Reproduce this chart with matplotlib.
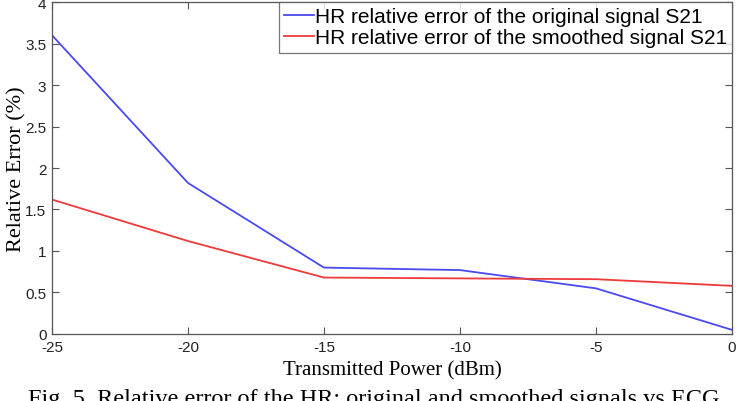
import matplotlib
matplotlib.use("Agg")
import matplotlib.pyplot as plt

power_dbm = [-25, -20, -15, -10, -5, 0]
err_original = [3.6, 1.82, 0.8, 0.77, 0.55, 0.05]
err_smoothed = [1.62, 1.12, 0.68, 0.67, 0.66, 0.58]
x_ticks = [-25, -20, -15, -10, -5, 0]
y_ticks = [0, 0.5, 1, 1.5, 2, 2.5, 3, 3.5, 4]
y_tick_labels = ["0", "0.5", "1", "1.5", "2", "2.5", "3", "3.5", "4"]

sans = "Liberation Sans"
serif = "Liberation Serif"

fig = plt.figure(figsize=(7.48, 4.02), dpi=100)
ax = fig.add_axes([0.0695, 0.1667, 0.909, 0.8258])

ax.plot(power_dbm, err_original, color="#4a4af0", lw=1.3,
        label="HR relative error of the original signal S21")
ax.plot(power_dbm, err_smoothed, color="#f03a3a", lw=1.3,
        label="HR relative error of the smoothed signal S21")

ax.set_xlim(-25, 0)
ax.set_ylim(0, 4)
ax.set_xticks(x_ticks)
ax.set_xticklabels([str(t) for t in x_ticks], fontfamily=sans, fontsize=11)
ax.set_yticks(y_ticks)
ax.set_yticklabels(y_tick_labels, fontfamily=sans, fontsize=11)
ax.tick_params(direction="in", top=True, right=True, length=5, color="#555555",
               labelcolor="#222222", pad=4)
for s in ax.spines.values():
    s.set_color("#555555")
    s.set_linewidth(0.9)

ax.set_xlabel("Transmitted Power (dBm)", fontfamily=serif, fontsize=15, labelpad=5)
ax.set_ylabel("Relative Error (%)", fontfamily=serif, fontsize=16)
ax.yaxis.set_label_coords(-0.038, 0.5)

leg = ax.legend(loc="upper right", prop={"family": sans, "size": 15},
                frameon=True, fancybox=False, borderaxespad=0,
                handlelength=1.4, handletextpad=0.05, borderpad=0.25, labelspacing=0.1)
leg.get_frame().set_edgecolor("#555555")
leg.get_frame().set_linewidth(0.9)

fig.text(0.5, -0.02, "Fig. 5. Relative error of the HR: original and smoothed signals vs ECG",
         ha="center", va="bottom", fontfamily=serif, fontsize=17.5)

fig.savefig("out.png", dpi=100)
